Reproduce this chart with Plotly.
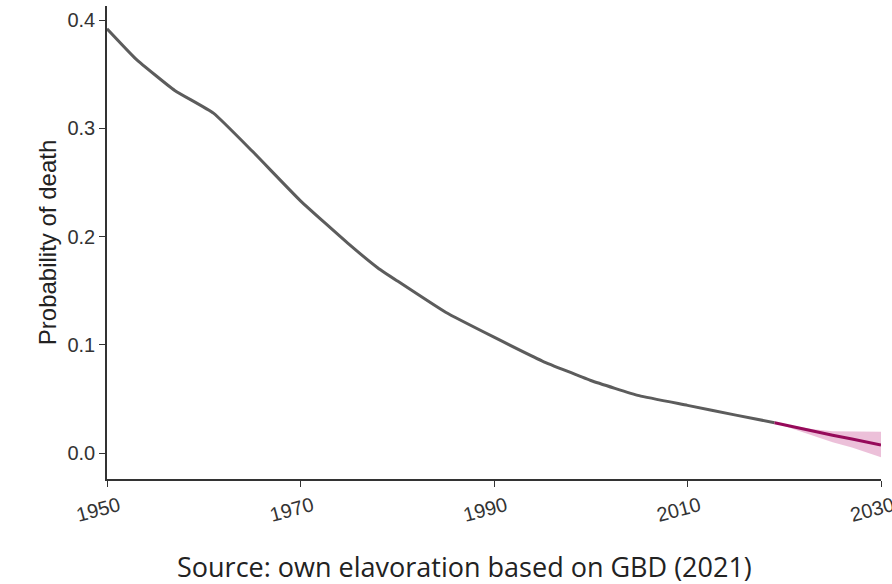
import plotly.graph_objects as go

# Historical series (GBD)
hist_years = [1950, 1953, 1957, 1961, 1965, 1970, 1975, 1978, 1980, 1985, 1990, 1995, 2000, 2005, 2010, 2015, 2019]
hist_vals = [0.392, 0.364, 0.335, 0.314, 0.279, 0.233, 0.193, 0.171, 0.159, 0.130, 0.107, 0.085, 0.067, 0.053, 0.044, 0.035, 0.028]

# Forecast series with uncertainty band
fc_years = [2019, 2021, 2023, 2025, 2027, 2030]
fc_vals = [0.028, 0.024, 0.020, 0.0165, 0.013, 0.0075]
fc_upper = [0.028, 0.025, 0.022, 0.0202, 0.0198, 0.0197]
fc_lower = [0.028, 0.022, 0.016, 0.010, 0.005, -0.004]

x_ticks = [1950, 1970, 1990, 2010, 2030]
y_ticks = [0.0, 0.1, 0.2, 0.3, 0.4]

fig = go.Figure()
fig.add_trace(go.Scatter(x=fc_years + fc_years[::-1], y=fc_upper + fc_lower[::-1],
                         mode="lines", fill="toself", fillcolor="rgba(220,140,185,0.55)",
                         line=dict(width=0), hoverinfo="skip", showlegend=False))
fig.add_trace(go.Scatter(x=hist_years, y=hist_vals, mode="lines",
                         line=dict(color="#5c5c5c", width=3, shape="spline", smoothing=0.4),
                         showlegend=False))
fig.add_trace(go.Scatter(x=fc_years, y=fc_vals, mode="lines",
                         line=dict(color="#960a5a", width=3), showlegend=False))

fig.update_layout(
    width=892, height=584,
    margin=dict(l=107, r=11, t=6, b=105),
    paper_bgcolor="white", plot_bgcolor="white",
    font=dict(family="Liberation Sans, Arial, sans-serif", color="#222"),
    annotations=[dict(text="Source: own elavoration based on GBD (2021)",
                      xref="paper", yref="paper", x=0.462, y=-0.186,
                      xanchor="center", yanchor="middle", showarrow=False,
                      font=dict(family="Open Sans, sans-serif", size=27, color="#222"))],
)
fig.update_xaxes(range=[1950, 2030], tickvals=x_ticks, ticktext=[str(v) for v in x_ticks],
                 showgrid=False, zeroline=False, showline=True, linecolor="#333", linewidth=1.6,
                 ticks="outside", ticklen=6, tickwidth=1.4, tickcolor="#333",
                 tickangle=-15, ticklabelshift=12, ticklabeloverflow="allow",
                 tickfont=dict(size=20, color="#333"), automargin=False)
fig.update_yaxes(range=[-0.024, 0.413], tickvals=y_ticks, tickformat=".1f",
                 showgrid=False, zeroline=False, showline=True, linecolor="#333", linewidth=1.6,
                 ticks="outside", ticklen=6, tickwidth=1.4, tickcolor="#333",
                 tickfont=dict(size=20, color="#333"),
                 title=dict(text="Probability of death", font=dict(size=24, color="#222"), standoff=4),
                 automargin=False)

fig.write_html("out.html")
